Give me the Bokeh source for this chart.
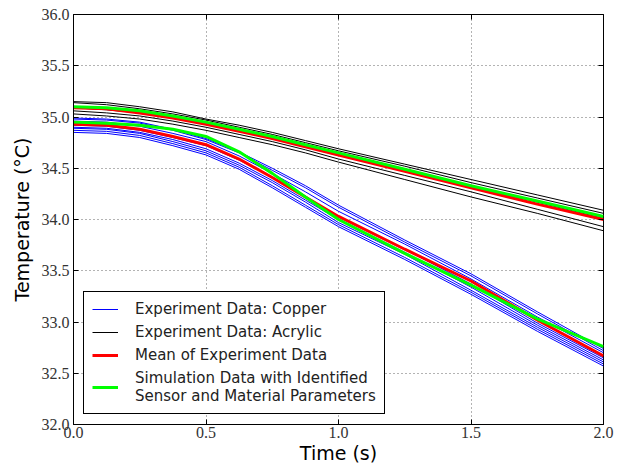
from bokeh.plotting import figure
from bokeh.models import (Range1d, FixedTicker, PrintfTickFormatter, LinearAxis,
                          Legend, LegendItem)
from bokeh.embed import file_html
from bokeh.resources import INLINE

# time samples (s)
t = [0.0, 0.125, 0.25, 0.375, 0.5, 0.625, 0.75, 0.875, 1.0, 1.25, 1.5, 1.75, 2.0]

# Experiment data: copper (blue)
copper = [
    [34.99, 34.98, 34.95, 34.88, 34.79, 34.66, 34.50, 34.33, 34.14, 33.80, 33.47, 33.10, 32.74],
    [34.98, 34.97, 34.94, 34.87, 34.78, 34.65, 34.48, 34.31, 34.12, 33.78, 33.45, 33.08, 32.72],
    [34.96, 34.95, 34.91, 34.84, 34.76, 34.62, 34.45, 34.27, 34.08, 33.76, 33.42, 33.05, 32.70],
    [34.92, 34.91, 34.87, 34.80, 34.72, 34.58, 34.41, 34.22, 34.03, 33.71, 33.37, 32.99, 32.65],
    [34.90, 34.89, 34.85, 34.78, 34.69, 34.55, 34.38, 34.19, 34.00, 33.68, 33.34, 32.97, 32.63],
    [34.89, 34.88, 34.84, 34.76, 34.67, 34.53, 34.36, 34.17, 33.97, 33.66, 33.31, 32.95, 32.61],
    [34.87, 34.86, 34.82, 34.74, 34.65, 34.51, 34.33, 34.14, 33.95, 33.63, 33.29, 32.93, 32.59],
    [34.85, 34.84, 34.80, 34.72, 34.63, 34.49, 34.31, 34.12, 33.93, 33.61, 33.27, 32.91, 32.57],
]
# Experiment data: acrylic (black)
acrylic = [
    [35.15, 35.14, 35.10, 35.05, 34.98, 34.92, 34.85, 34.77, 34.69, 34.54, 34.39, 34.24, 34.09],
    [35.14, 35.12, 35.08, 35.03, 34.97, 34.90, 34.83, 34.75, 34.67, 34.52, 34.36, 34.21, 34.06],
    [35.09, 35.07, 35.04, 35.00, 34.94, 34.87, 34.80, 34.72, 34.64, 34.48, 34.32, 34.17, 34.01],
    [35.06, 35.04, 35.01, 34.96, 34.90, 34.83, 34.76, 34.68, 34.59, 34.43, 34.27, 34.10, 33.93],
    [35.03, 35.01, 34.98, 34.93, 34.87, 34.80, 34.73, 34.65, 34.56, 34.39, 34.22, 34.06, 33.89],
]
# Mean of experiment data (red)
mean_copper = [34.93, 34.92, 34.88, 34.81, 34.73, 34.59, 34.41, 34.22, 34.03, 33.71, 33.40, 33.02, 32.67]
mean_acrylic = [35.09, 35.08, 35.04, 34.99, 34.93, 34.86, 34.79, 34.71, 34.63, 34.47, 34.31, 34.15, 34.00]
# Simulation data (green)
sim_copper = [34.95, 34.94, 34.92, 34.88, 34.81, 34.66, 34.45, 34.22, 34.00, 33.67, 33.36, 33.03, 32.76]
sim_acrylic = [35.10, 35.09, 35.06, 35.01, 34.95, 34.88, 34.81, 34.73, 34.65, 34.49, 34.33, 34.18, 34.03]

x_ticks = [0.0, 0.5, 1.0, 1.5, 2.0]
y_ticks = [32.0, 32.5, 33.0, 33.5, 34.0, 34.5, 35.0, 35.5, 36.0]

legend_labels = ["Experiment Data: Copper", "Experiment Data: Acrylic",
                 "Mean of Experiment Data",
                 "Simulation Data with Identified\nSensor and Material Parameters"]

p = figure(width=628, height=470, output_backend="svg", toolbar_location=None,
           x_range=Range1d(0, 2), y_range=Range1d(32, 36),
           min_border_left=73, min_border_right=25, min_border_top=14,
           min_border_bottom=46)
p.background_fill_color = "white"
p.border_fill_color = "white"
p.outline_line_color = "black"
p.outline_line_width = 1

tick_font = "Liberation Serif"
for ax in (p.xaxis[0], p.yaxis[0]):
    ax.major_label_text_font = tick_font
    ax.major_label_text_font_size = "16px"
    ax.major_label_text_font_style = "normal"
    ax.major_label_text_color = "#333333"
    ax.major_tick_in = 5
    ax.major_tick_out = 0
    ax.minor_tick_line_color = None
    ax.axis_line_color = "black"
    ax.axis_label_text_font = "DejaVu Sans"
    ax.axis_label_text_font_size = "19px"
    ax.axis_label_text_font_style = "normal"
    ax.axis_label_text_color = "black"
p.xaxis.major_label_standoff = 2
p.yaxis.major_label_standoff = 4
p.xaxis.axis_label_standoff = 1
p.yaxis.axis_label_standoff = 6
p.xaxis.ticker = FixedTicker(ticks=x_ticks)
p.yaxis.ticker = FixedTicker(ticks=y_ticks)
p.xaxis.formatter = PrintfTickFormatter(format="%.1f")
p.yaxis.formatter = PrintfTickFormatter(format="%.1f")
p.xaxis.axis_label = "Time (s)"
p.yaxis.axis_label = "Temperature (°C)"

for loc, tk in (("right", y_ticks), ("above", x_ticks)):
    ax = LinearAxis(ticker=FixedTicker(ticks=tk), major_label_text_font_size="1px",
                    major_label_text_color=None,
                    major_label_standoff=0, major_tick_in=5, major_tick_out=0,
                    minor_tick_line_color=None, axis_line_color=None)
    p.add_layout(ax, loc)

p.grid.grid_line_color = "#666666"
p.grid.grid_line_dash = "1 3"
p.grid.grid_line_width = 1
p.xgrid.ticker = FixedTicker(ticks=x_ticks)
p.ygrid.ticker = FixedTicker(ticks=y_ticks)

cu_renderers = [p.line(t, ys, line_color="#0000ff", line_width=1) for ys in copper]
ac_renderers = [p.line(t, ys, line_color="black", line_width=1) for ys in acrylic]
r_mean = p.line(t, mean_copper, line_color="#ff0000", line_width=3)
p.line(t, mean_acrylic, line_color="#ff0000", line_width=3)
r_sim = p.line(t, sim_copper, line_color="#00ff00", line_width=3)
p.line(t, sim_acrylic, line_color="#00ff00", line_width=3)

legend = Legend(items=[LegendItem(label=legend_labels[0], renderers=[cu_renderers[0]]),
                       LegendItem(label=legend_labels[1], renderers=[ac_renderers[0]]),
                       LegendItem(label=legend_labels[2], renderers=[r_mean]),
                       LegendItem(label=legend_labels[3], renderers=[r_sim])],
                location="bottom_left")
legend.label_text_font = "DejaVu Sans"
legend.label_text_font_size = "15px"
legend.label_text_color = "#222222"
legend.border_line_color = "black"
legend.border_line_width = 1
legend.border_line_alpha = 1
legend.background_fill_alpha = 1
legend.margin = 10
legend.padding = 8
legend.spacing = 5
legend.glyph_width = 26
legend.glyph_height = 18
legend.label_standoff = 17
legend.label_height = 18
p.add_layout(legend, "center")

open("out.html", "w").write(file_html(p, INLINE))
